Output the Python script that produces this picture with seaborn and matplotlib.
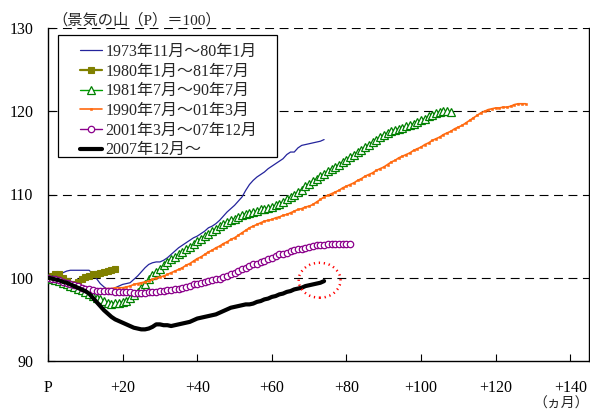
import numpy as np
import pandas as pd
import matplotlib
matplotlib.use("Agg")
import matplotlib.pyplot as plt
from matplotlib.patches import Ellipse, Rectangle
import seaborn as sns

# ---------------- data (index values, peak P = 100, monthly) ----------------
labels = ["1973年11月～80年1月", "1980年1月～81年7月", "1981年7月～90年7月",
          "1990年7月～01年3月", "2001年3月～07年12月", "2007年12月～"]

s1973 = [100.0, 100.2, 100.3, 100.5, 100.6, 100.8, 100.9, 100.9, 100.9, 100.9,
         100.9, 100.9, 100.5, 99.9, 99.3, 98.9, 98.6, 98.6, 98.8, 99.0,
         99.2, 99.3, 99.4, 99.8, 100.2, 100.7, 101.2, 101.6, 101.8, 101.9,
         101.9, 102.1, 102.4, 102.8, 103.2, 103.6, 103.9, 104.2, 104.5, 104.8,
         105.0, 105.3, 105.6, 106.0, 106.2, 106.5, 106.9, 107.4, 107.9, 108.3,
         108.7, 109.2, 109.7, 110.5, 111.2, 111.7, 112.1, 112.4, 112.7, 113.1,
         113.4, 113.7, 114.0, 114.3, 114.8, 115.1, 115.1, 115.6, 115.9, 116.0,
         116.1, 116.2, 116.3, 116.4, 116.6]

s1980 = [100.0, 100.2, 100.4, 100.4, 100.0, 99.6, 99.3, 99.3, 99.5, 99.8,
         100.1, 100.2, 100.4, 100.5, 100.6, 100.7, 100.8, 100.9, 101.0]

s1981 = [100.0, 99.9, 99.7, 99.6, 99.4, 99.2, 99.0, 98.9, 98.7, 98.5,
         98.3, 98.1, 97.8, 97.6, 97.4, 97.2, 97.0, 96.9, 97.0, 97.0,
         97.1, 97.2, 97.6, 97.9, 98.3, 98.8, 99.3, 99.8, 100.3, 100.7,
         101.1, 101.5, 101.9, 102.2, 102.5, 102.8, 103.1, 103.4, 103.7, 104.0,
         104.4, 104.7, 105.0, 105.3, 105.6, 105.9, 106.2, 106.5, 106.7, 106.9,
         107.1, 107.3, 107.5, 107.7, 107.8, 107.9, 108.0, 108.2, 108.3, 108.4,
         108.5, 108.7, 108.9, 109.1, 109.4, 109.7, 110.0, 110.3, 110.6, 111.0,
         111.3, 111.6, 111.9, 112.2, 112.5, 112.8, 113.1, 113.3, 113.6, 113.9,
         114.2, 114.5, 114.8, 115.1, 115.4, 115.7, 116.0, 116.3, 116.6, 116.9,
         117.2, 117.4, 117.6, 117.8, 117.9, 118.0, 118.2, 118.3, 118.5, 118.7,
         118.9, 119.1, 119.4, 119.6, 119.8, 119.9, 120.0, 120.0, 119.9]

s1990 = [100.0, 99.9, 99.8, 99.6, 99.5, 99.3, 99.2, 99.0, 98.9, 98.8,
         98.7, 98.6, 98.6, 98.6, 98.6, 98.7, 98.7, 98.7, 98.8, 98.8,
         98.8, 98.9, 99.0, 99.2, 99.3, 99.4, 99.5, 99.6, 99.8, 100.0,
         100.1, 100.2, 100.4, 100.6, 100.8, 101.0, 101.2, 101.5, 101.7, 102.0,
         102.3, 102.5, 102.8, 103.1, 103.3, 103.6, 103.8, 104.1, 104.3, 104.6,
         104.8, 105.1, 105.4, 105.7, 106.0, 106.2, 106.4, 106.6, 106.8, 106.9,
         107.0, 107.2, 107.3, 107.5, 107.6, 107.8, 108.0, 108.2, 108.3, 108.5,
         108.6, 108.8, 109.1, 109.4, 109.7, 109.9, 110.1, 110.3, 110.5, 110.8,
         111.0, 111.2, 111.4, 111.7, 111.9, 112.2, 112.4, 112.6, 112.9, 113.1,
         113.3, 113.6, 113.9, 114.1, 114.4, 114.6, 114.8, 115.0, 115.3, 115.5,
         115.7, 116.0, 116.2, 116.5, 116.7, 116.9, 117.2, 117.4, 117.6, 117.9,
         118.1, 118.3, 118.6, 118.9, 119.2, 119.5, 119.8, 120.0, 120.2, 120.3,
         120.4, 120.4, 120.5, 120.5, 120.6, 120.8, 120.9, 120.9, 120.9]

s2001 = [100.0, 99.9, 99.8, 99.7, 99.5, 99.4, 99.2, 99.1, 99.0, 98.8,
         98.7, 98.6, 98.5, 98.4, 98.4, 98.4, 98.4, 98.4, 98.3, 98.3,
         98.3, 98.3, 98.3, 98.2, 98.2, 98.2, 98.2, 98.3, 98.3, 98.3,
         98.4, 98.4, 98.5, 98.5, 98.6, 98.7, 98.8, 98.9, 99.0, 99.2,
         99.3, 99.4, 99.5, 99.6, 99.7, 99.8, 99.9, 100.1, 100.2, 100.4,
         100.6, 100.8, 101.0, 101.2, 101.4, 101.6, 101.7, 101.9, 102.0, 102.2,
         102.4, 102.6, 102.8, 102.9, 103.0, 103.2, 103.3, 103.4, 103.5, 103.6,
         103.7, 103.8, 103.9, 103.9, 103.9, 104.0, 104.0, 104.0, 104.0, 104.1,
         104.1, 104.1]

s2007 = [100.0, 99.9, 99.8, 99.7, 99.5, 99.4, 99.2, 99.0, 98.8, 98.6,
         98.4, 98.1, 97.6, 97.1, 96.6, 96.1, 95.7, 95.3, 95.0, 94.8,
         94.6, 94.4, 94.2, 94.0, 93.9, 93.8, 93.8, 93.9, 94.1, 94.4,
         94.4, 94.3, 94.3, 94.2, 94.3, 94.4, 94.5, 94.6, 94.7, 94.9,
         95.1, 95.2, 95.3, 95.4, 95.5, 95.6, 95.8, 96.0, 96.2, 96.4,
         96.5, 96.6, 96.7, 96.8, 96.8, 96.9, 97.1, 97.2, 97.4, 97.5,
         97.7, 97.8, 98.0, 98.1, 98.3, 98.4, 98.6, 98.7, 98.8, 99.0,
         99.1, 99.2, 99.3, 99.4, 99.6]

series = [s1973, s1980, s1981, s1990, s2001, s2007]

xtick_values = [0, 20, 40, 60, 80, 100, 120, 140]
xtick_labels = ["P", "+20", "+40", "+60", "+80", "+100", "+120", "+140"]
ytick_values = [90, 100, 110, 120, 130]
grid_values = [100, 110, 120, 130]

# ---------------- styling ----------------
sns.set_theme(style="ticks")
FAM = ["Liberation Serif", "Noto Sans CJK JP", "DejaVu Sans"]
plt.rcParams["font.family"] = FAM
plt.rcParams["axes.unicode_minus"] = False

styles = [
    dict(color="#24249C", lw=0.9, marker=None),
    dict(color="#808000", lw=1.6, marker="s", ms=4.5, mfc="#808000", mec="#808000", mew=0.8),
    dict(color="#00A000", lw=1.0, marker="^", ms=5.5, mfc="white", mec="#008000", mew=0.9),
    dict(color="#FF6A10", lw=1.2, marker="s", ms=2.0, mfc="#FF6A10", mec="#FF6A10", mew=0.4),
    dict(color="#8B008B", lw=1.0, marker="o", ms=4.6, mfc="white", mec="#8B008B", mew=0.9),
    dict(color="black", lw=3.0, marker=None),
]

W, H = 590, 412
fig = plt.figure(figsize=(W / 100, H / 100), dpi=100)
ax = fig.add_axes([48 / W, 1 - 361 / H, 541 / W, 333 / H])

frames = []
for lab, vals in zip(labels, series):
    frames.append(pd.DataFrame({"month": np.arange(len(vals)), "value": vals, "series": lab}))
df = pd.concat(frames, ignore_index=True)

# dashed reference lines
for g in grid_values:
    ax.axhline(g, color="black", lw=0.8, dashes=(8, 5), zorder=1)

for lab, st in zip(labels, styles):
    sub = df[df["series"] == lab]
    kw = dict(x="month", y="value", data=sub, ax=ax, color=st["color"], lw=st["lw"],
              label=lab, zorder=3)
    if st["marker"] is not None:
        kw.update(marker=st["marker"], markersize=st["ms"], markerfacecolor=st["mfc"],
                  markeredgecolor=st["mec"], markeredgewidth=st["mew"])
    sns.lineplot(**kw)

# red dotted ellipse around the latest point of the current cycle
last_x = len(s2007) - 1
last_y = s2007[-1]
ell = Ellipse((last_x - 1.2, last_y + 0.1), width=11.2, height=4.2, fill=False,
              edgecolor="red", lw=1.8, linestyle=(0, (0.5, 1.5)), zorder=4)
ax.add_patch(ell)

ax.set_xlim(0, 145)
ax.set_ylim(90, 130)
ax.set_xticks(xtick_values)
ax.set_xticklabels(xtick_labels)
ax.set_yticks(ytick_values)
ax.tick_params(axis="x", direction="in", length=5, width=0.8, pad=14, labelsize=11.5, colors="black")
ax.tick_params(axis="y", direction="in", length=5, width=0.8, pad=10.5, labelsize=11.5, colors="black")
for lbl in ax.get_xticklabels() + ax.get_yticklabels():
    lbl.set_family(FAM)
ax.set_xlabel("")
ax.set_ylabel("")
for side in ["left", "right", "bottom"]:
    ax.spines[side].set_visible(True)
    ax.spines[side].set_color("black")
    ax.spines[side].set_linewidth(1.0)
ax.spines["top"].set_visible(False)

# legend frame (pixel box) and legend entries
frame = Rectangle((58 / W, 1 - 157 / H), (277 - 58) / W, (157 - 35) / H,
                  transform=fig.transFigure, facecolor="white", edgecolor="black",
                  lw=0.9, zorder=5, clip_on=False)
ax.add_patch(frame)
leg = ax.legend(loc="upper left", bbox_to_anchor=(80 / W, 1 - 44 / H),
                bbox_transform=fig.transFigure, borderaxespad=0, borderpad=0,
                frameon=False, prop=dict(family=FAM, size=11.5), labelspacing=0.23,
                handlelength=1.375, handletextpad=0.22, numpoints=1)
leg.set_zorder(6)

fig.text(52 / W, 1 - 20 / H, "（景気の山（P）＝100）", ha="left", va="center",
         fontsize=11, family=FAM)
fig.text(589 / W, 1 - 404 / H, "（ヵ月）", ha="right", va="center",
         fontsize=10, family=FAM)

fig.savefig("out.png", dpi=100)
